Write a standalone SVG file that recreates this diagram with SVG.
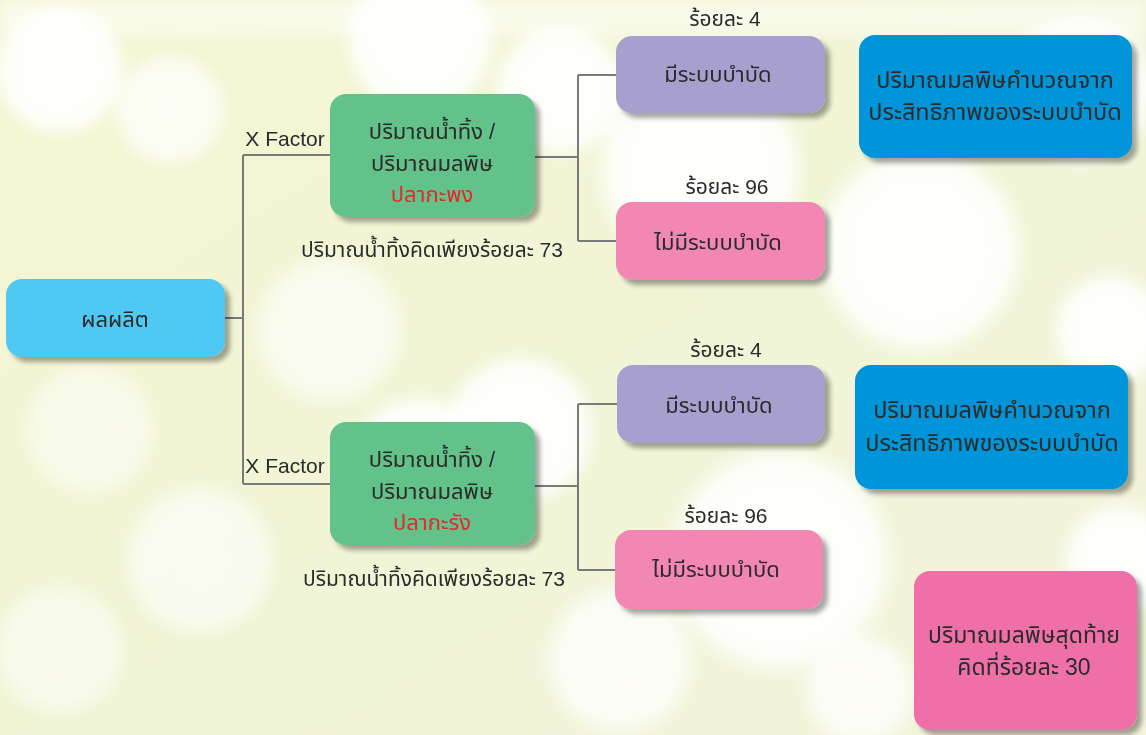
<svg xmlns="http://www.w3.org/2000/svg" width="1146" height="735" viewBox="0 0 1146 735">
<defs>
<style>
.t{font-family:"Liberation Sans","Noto Sans Thai","Noto Sans",sans-serif;fill:#2b2b2b;text-anchor:middle}
.s23{font-size:23.5px}
.s22{font-size:22px}
.s21{font-size:21px}
.red{fill:#e8262b}
.conn{fill:none;stroke:#7a7a7a;stroke-width:2}
.box{filter:url(#sh)}
</style>
<filter id="sh" x="-10%" y="-10%" width="130%" height="140%">
<feGaussianBlur in="SourceAlpha" stdDeviation="2.5"/>
<feOffset dx="5" dy="5" result="b"/>
<feComponentTransfer><feFuncA type="linear" slope="0.35"/></feComponentTransfer>
<feMerge><feMergeNode/><feMergeNode in="SourceGraphic"/></feMerge>
</filter>
<filter id="blur"><feGaussianBlur stdDeviation="6"/></filter>
<linearGradient id="bg" x1="0" y1="0" x2="1" y2="1">
<stop offset="0" stop-color="#f5f6d2"/>
<stop offset="0.5" stop-color="#f1f5d6"/>
<stop offset="1" stop-color="#f3f4dc"/>
</linearGradient>
<radialGradient id="bk" cx="0.5" cy="0.5" r="0.5">
<stop offset="0" stop-color="#ffffff" stop-opacity="0.95"/>
<stop offset="0.8" stop-color="#ffffff" stop-opacity="0.85"/>
<stop offset="1" stop-color="#ffffff" stop-opacity="0"/>
</radialGradient>
</defs>
<rect width="1146" height="735" fill="url(#bg)"/>
<g id="bokeh" filter="url(#blur)">
<circle cx="60" cy="70" r="70" fill="url(#bk)"/>
<circle cx="170" cy="110" r="60" fill="url(#bk)" opacity="0.8"/>
<circle cx="420" cy="40" r="80" fill="url(#bk)"/>
<circle cx="560" cy="90" r="70" fill="url(#bk)"/>
<circle cx="700" cy="170" r="110" fill="url(#bk)"/>
<circle cx="920" cy="250" r="110" fill="url(#bk)"/>
<circle cx="1080" cy="90" r="80" fill="url(#bk)"/>
<circle cx="1110" cy="330" r="60" fill="url(#bk)"/>
<circle cx="330" cy="330" r="80" fill="url(#bk)" opacity="0.7"/>
<circle cx="90" cy="430" r="70" fill="url(#bk)" opacity="0.6"/>
<circle cx="200" cy="560" r="80" fill="url(#bk)" opacity="0.7"/>
<circle cx="420" cy="470" r="80" fill="url(#bk)"/>
<circle cx="520" cy="430" r="80" fill="url(#bk)"/>
<circle cx="780" cy="560" r="120" fill="url(#bk)"/>
<circle cx="620" cy="660" r="80" fill="url(#bk)" opacity="0.8"/>
<circle cx="60" cy="650" r="70" fill="url(#bk)" opacity="0.6"/>
<circle cx="1120" cy="560" r="60" fill="url(#bk)"/>
<circle cx="860" cy="690" r="60" fill="url(#bk)" opacity="0.8"/>
<rect x="0" y="0" width="1146" height="36" fill="#ffffff" opacity="0.5"/>
</g>
<g id="connectors">
<path class="conn" d="M225 318 H243 M243 155 V484 M243 155 H330 M243 484 H330"/>
<path class="conn" d="M535 157 H578 M578 75 V241 M578 75 H616 M578 241 H616"/>
<path class="conn" d="M535 486 H578 M578 404 V570 M578 404 H617 M578 570 H615"/>
</g>
<g id="n-product"><rect class="box" x="6" y="279" width="219" height="78" rx="16" fill="#4fc8f4"/><text class="t s22" x="115" y="327">ผลผลิต</text></g>
<g id="l-xf1"><text class="t s21" x="285" y="146">X Factor</text></g>
<g id="l-xf2"><text class="t s21" x="285" y="473">X Factor</text></g>
<g id="n-green1"><rect class="box" x="330" y="94" width="205" height="123" rx="16" fill="#63c18a"/>
<text class="t s22" x="432" y="139">ปริมาณน้ำทิ้ง /</text><text class="t s22" x="432" y="171">ปริมาณมลพิษ</text><text class="t s22 red" x="432" y="202">ปลากะพง</text></g>
<g id="l-73a"><text class="t s21" x="432" y="257">ปริมาณน้ำทิ้งคิดเพียงร้อยละ 73</text></g>
<g id="n-green2"><rect class="box" x="330" y="422" width="205" height="123" rx="16" fill="#63c18a"/>
<text class="t s22" x="432" y="467">ปริมาณน้ำทิ้ง /</text><text class="t s22" x="432" y="499">ปริมาณมลพิษ</text><text class="t s22 red" x="432" y="530">ปลากะรัง</text></g>
<g id="l-73b"><text class="t s21" x="434" y="586">ปริมาณน้ำทิ้งคิดเพียงร้อยละ 73</text></g>
<g id="l-4a"><text class="t s21" x="725" y="26">ร้อยละ 4</text></g>
<g id="n-purple1"><rect class="box" x="616" y="36" width="209" height="77" rx="16" fill="#a7a0cf"/><text class="t s22" x="718" y="82">มีระบบบำบัด</text></g>
<g id="l-96a"><text class="t s21" x="727" y="194">ร้อยละ 96</text></g>
<g id="n-pink1"><rect class="box" x="616" y="202" width="209" height="78" rx="16" fill="#f287b4"/><text class="t s22" x="718" y="250">ไม่มีระบบบำบัด</text></g>
<g id="n-blue1"><rect class="box" x="859" y="35" width="273" height="123" rx="16" fill="#0095d8"/>
<text class="t s23" x="995" y="88">ปริมาณมลพิษคำนวณจาก</text><text class="t s23" x="995" y="120">ประสิทธิภาพของระบบบำบัด</text></g>
<g id="l-4b"><text class="t s21" x="726" y="357">ร้อยละ 4</text></g>
<g id="n-purple2"><rect class="box" x="617" y="365" width="208" height="78" rx="16" fill="#a7a0cf"/><text class="t s22" x="719" y="413">มีระบบบำบัด</text></g>
<g id="l-96b"><text class="t s21" x="726" y="523">ร้อยละ 96</text></g>
<g id="n-pink2"><rect class="box" x="615" y="530" width="208" height="79" rx="16" fill="#f287b4"/><text class="t s22" x="716" y="577">ไม่มีระบบบำบัด</text></g>
<g id="n-blue2"><rect class="box" x="855" y="365" width="273" height="124" rx="16" fill="#0095d8"/>
<text class="t s23" x="992" y="418">ปริมาณมลพิษคำนวณจาก</text><text class="t s23" x="992" y="451">ประสิทธิภาพของระบบบำบัด</text></g>
<g id="n-final"><rect class="box" x="914" y="571" width="223" height="159" rx="16" fill="#ef6fa8"/>
<text class="t" style="font-size:23px" x="1024" y="643">ปริมาณมลพิษสุดท้าย</text><text class="t" style="font-size:23px" x="1024" y="675">คิดที่ร้อยละ 30</text></g>
</svg>
